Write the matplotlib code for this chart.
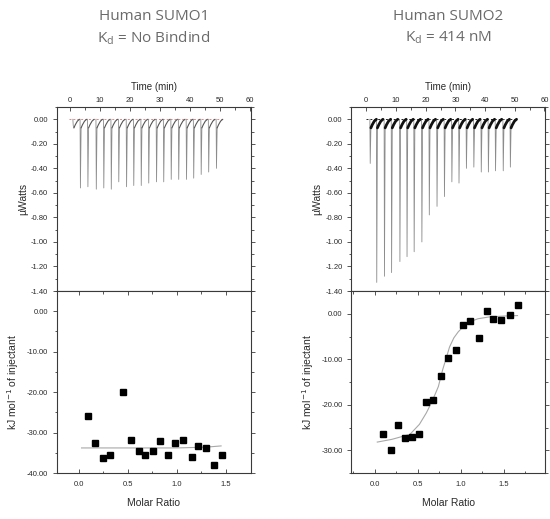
import numpy as np
import matplotlib
matplotlib.use("Agg")
import matplotlib.pyplot as plt
from matplotlib.ticker import MultipleLocator, FormatStrFormatter

# --- data ---
# SUMO1 raw thermogram: injection times (min) and peak heights (uW)
sumo1_t = [0.9, 3.3, 5.8, 8.6, 11.1, 13.6, 16.1, 18.7, 21.1, 23.6, 26.1,
           28.7, 31.1, 33.6, 36.1, 38.7, 41.1, 43.6, 46.1, 48.7]
sumo1_peak = [-0.05, -0.56, -0.55, -0.57, -0.56, -0.57, -0.51, -0.55, -0.54,
              -0.54, -0.52, -0.51, -0.51, -0.49, -0.49, -0.49, -0.48, -0.45,
              -0.43, -0.40]

# SUMO1 integrated heats
sumo1_ratio = [0.10, 0.17, 0.25, 0.32, 0.45, 0.53, 0.61, 0.68, 0.76, 0.83,
               0.91, 0.98, 1.06, 1.15, 1.22, 1.30, 1.38, 1.46]
sumo1_heat = [-26.0, -32.6, -36.2, -35.6, -19.9, -31.9, -34.6, -35.5, -34.6,
              -32.1, -35.5, -32.7, -31.8, -36.1, -33.2, -33.7, -37.9, -35.6]
sumo1_fit_x = [0.03, 0.5, 1.0, 1.3, 1.45]
sumo1_fit_y = [-33.8, -33.8, -33.8, -33.6, -33.3]

# SUMO2 raw thermogram
sumo2_t = [1.2, 3.4, 6.0, 8.4, 11.2, 13.6, 16.0, 18.6, 21.1, 23.7, 26.2,
           28.7, 31.1, 33.6, 36.1, 38.6, 41.0, 43.4, 46.0, 48.4]
sumo2_peak = [-0.36, -1.33, -1.28, -1.25, -1.16, -1.12, -1.08, -1.00, -0.78,
              -0.71, -0.63, -0.51, -0.52, -0.40, -0.39, -0.43, -0.43, -0.42,
              -0.42, -0.39]

# SUMO2 integrated heats
sumo2_ratio = [0.10, 0.19, 0.27, 0.35, 0.43, 0.52, 0.60, 0.68, 0.77, 0.85,
               0.94, 1.03, 1.11, 1.21, 1.30, 1.38, 1.47, 1.57, 1.66]
sumo2_heat = [-26.4, -30.0, -24.5, -27.2, -27.1, -26.4, -19.5, -18.9, -13.7,
              -9.8, -8.0, -2.4, -1.5, -5.3, 0.65, -1.2, -1.3, -0.2, 1.9]
sumo2_fit_x = [0.03, 0.2, 0.41, 0.52, 0.6, 0.64, 0.7, 0.74, 0.79, 0.84, 0.87,
               0.92, 0.97, 1.03, 1.10, 1.2, 1.33, 1.5, 1.66]
sumo2_fit_y = [-28.2, -27.6, -26.5, -24.3, -21.8, -20.3, -17.8, -16.0, -12.3,
               -9.2, -7.3, -5.3, -4.0, -2.8, -1.8, -1.1, -0.7, -0.5, -0.4]

plt.rcParams["font.family"] = "Liberation Sans"
axis_col = "#3a3a3a"
text_col = "#2a2a2a"

fig = plt.figure(figsize=(5.5, 5.19), dpi=100)


def style(ax):
    for s in ax.spines.values():
        s.set_color(axis_col)
        s.set_linewidth(0.8)
    ax.tick_params(axis="both", which="both", colors=axis_col, labelcolor=text_col,
                   labelsize=5.5, width=0.6)
    ax.tick_params(axis="y", which="both", direction="out", left=True)
    ax.tick_params(axis="y", which="major", length=3)
    ax.tick_params(axis="y", which="minor", length=1.8)
    ax.tick_params(axis="x", which="both", direction="in")
    ax.tick_params(axis="x", which="major", length=3)
    ax.tick_params(axis="x", which="minor", length=1.8)
    ax.yaxis.set_ticks_position("left")
    ax.tick_params(axis="y", which="both", right=True)


def thermogram(ax, times, peaks, tail_col, tail_lw, base_col):
    ax.plot([times[0] - 1.2, times[-1] + 2.2], [0, 0], color=base_col,
            lw=0.7, ls=(0, (2, 2)), zorder=1)
    for t, p in zip(times, peaks):
        ax.plot([t, t + 0.12, t + 0.35], [0, p, -0.07], color="#8c8c8c", lw=0.6, zorder=2)
        ax.plot([t + 0.35, t + 0.8, t + 1.5, t + 2.2], [-0.07, -0.045, -0.015, 0],
                color=tail_col, lw=tail_lw, zorder=3, solid_capstyle="round")


panels = [
    (0.1036, sumo1_t, sumo1_peak, sumo1_ratio, sumo1_heat, sumo1_fit_x, sumo1_fit_y,
     "#555555", 0.8, "#e08a8a", (-4.4, 60.2), (-0.22, 1.75), (-40, 5), 10,
     "Human SUMO1", "$\\mathregular{K_d}$ = No Bindind"),
    (0.639, sumo2_t, sumo2_peak, sumo2_ratio, sumo2_heat, sumo2_fit_x, sumo2_fit_y,
     "#111111", 2.0, "#222222", (-5.0, 60.2), (-0.27, 1.98), (-35, 5), 10,
     "Human SUMO2", "$\\mathregular{K_d}$ = 414 nM"),
]

for (left, t, pk, ratio, heat, fx, fy, tail_col, tail_lw, base_col,
     tlim, rlim, hlim, hstep, title1, title2) in panels:
    width = 0.352
    ax1 = fig.add_axes([left, 0.4393, width, 0.3545])
    ax2 = fig.add_axes([left, 0.0886, width, 0.3507])

    # raw data
    thermogram(ax1, t, pk, tail_col, tail_lw, base_col)
    ax1.set_xlim(*tlim)
    ax1.set_ylim(-1.4, 0.1)
    style(ax1)
    ax1.xaxis.set_ticks_position("top")
    ax1.xaxis.set_label_position("top")
    ax1.xaxis.set_major_locator(MultipleLocator(10))
    ax1.xaxis.set_minor_locator(MultipleLocator(5))
    ax1.yaxis.set_major_locator(MultipleLocator(0.2))
    ax1.yaxis.set_minor_locator(MultipleLocator(0.1))
    ax1.yaxis.set_major_formatter(FormatStrFormatter("%.2f"))
    ax1.tick_params(axis="x", which="both", top=True, bottom=False, pad=2)
    ax1.set_xlabel("Time (min)", fontsize=7, color=text_col, labelpad=5)
    ax1.set_ylabel("\u00b5Watts", fontsize=7.5, color=text_col, labelpad=2)

    # integrated heats
    ax2.plot(fx, fy, color="#a8a8a8", lw=0.8, zorder=2)
    ax2.plot(ratio, heat, "s", color="black", ms=4.6, zorder=3)
    ax2.set_xlim(*rlim)
    ax2.set_ylim(*hlim)
    style(ax2)
    ax2.xaxis.set_major_locator(MultipleLocator(0.5))
    ax2.xaxis.set_minor_locator(MultipleLocator(0.25))
    ax2.yaxis.set_major_locator(MultipleLocator(hstep))
    ax2.yaxis.set_minor_locator(MultipleLocator(hstep / 2))
    ax2.xaxis.set_major_formatter(FormatStrFormatter("%.1f"))
    ax2.yaxis.set_major_formatter(FormatStrFormatter("%.2f"))
    ax2.tick_params(axis="x", which="both", top=True, bottom=True, pad=6)
    ax2.set_xlabel("Molar Ratio", fontsize=7.5, color=text_col, labelpad=7)
    ax2.set_ylabel("kJ mol$^{-1}$ of injectant", fontsize=7.5, color=text_col, labelpad=4)

    cx = left + width / 2
    fig.text(cx, 1 - 16 / 519, title1, ha="center", va="center", fontsize=11,
             color="#6a6a6a", family="Open Sans")
    fig.text(cx, 1 - 38 / 519, title2, ha="center", va="center", fontsize=11,
             color="#6a6a6a", family="Open Sans")

fig.savefig("out.png", dpi=100)
